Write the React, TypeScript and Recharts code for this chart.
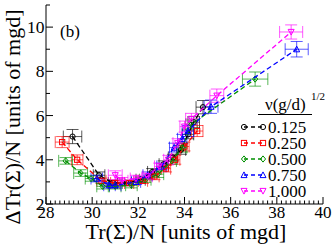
import React from 'react';
import { ScatterChart, Scatter, XAxis, YAxis, ErrorBar } from 'recharts';

// legend labels and colours, one per series
const seriesNames = ['0.125', '0.250', '0.500', '0.750', '1.000'];
const seriesColors = ['#000000', '#ff0000', '#009000', '#0000ff', '#ff00ff'];

// nu = 0.125
const x0125 = [29.15, 30.3, 30.9, 31.5, 32.1, 32.6, 33.1, 33.5, 33.85, 34.15, 34.4, 34.8];
const y0125 = [5.05, 3.3, 2.95, 2.95, 3.1, 3.45, 3.8, 4.1, 4.45, 5.15, 5.7, 6.38];
const ex0125 = [0.4, 0.25, 0.2, 0.2, 0.2, 0.2, 0.2, 0.2, 0.2, 0.25, 0.25, 0.3];
const ey0125 = [0.32, 0.15, 0.12, 0.12, 0.12, 0.15, 0.15, 0.15, 0.2, 0.2, 0.25, 0.3];

// nu = 0.250
const x0250 = [28.7, 29.35, 30.4, 31.0, 31.6, 32.2, 32.7, 33.2, 33.6, 34.0, 34.55];
const y0250 = [4.8, 4.0, 3.05, 2.95, 2.95, 3.05, 3.25, 3.6, 4.0, 4.6, 5.3];
const ex0250 = [0.3, 0.25, 0.2, 0.2, 0.2, 0.2, 0.2, 0.2, 0.2, 0.2, 0.25];
const ey0250 = [0.25, 0.22, 0.12, 0.12, 0.12, 0.12, 0.15, 0.15, 0.2, 0.2, 0.25];

// nu = 0.500
const x0500 = [28.85, 29.5, 29.95, 30.45, 31.0, 31.7, 32.3, 32.85, 33.45, 33.9, 34.3, 37.06];
const y0500 = [3.95, 3.4, 3.15, 2.8, 2.8, 2.85, 3.1, 3.35, 3.95, 4.55, 5.6, 7.65];
const ex0500 = [0.3, 0.3, 0.25, 0.25, 0.25, 0.25, 0.25, 0.25, 0.2, 0.2, 0.25, 0.55];
const ey0500 = [0.15, 0.15, 0.12, 0.12, 0.12, 0.12, 0.12, 0.15, 0.15, 0.2, 0.2, 0.32];

// nu = 0.750
const x0750 = [30.2, 30.75, 31.0, 31.9, 32.4, 33.0, 33.55, 33.9, 34.15, 35.15, 38.86];
const y0750 = [3.15, 2.85, 2.85, 3.0, 3.3, 3.7, 4.55, 4.95, 5.3, 6.4, 9.0];
const ex0750 = [0.25, 0.25, 0.25, 0.2, 0.2, 0.2, 0.2, 0.2, 0.25, 0.3, 0.5];
const ey0750 = [0.15, 0.12, 0.12, 0.12, 0.15, 0.15, 0.2, 0.2, 0.25, 0.3, 0.35];

// nu = 1.000
const x1000 = [31.0, 31.3, 31.9, 32.4, 32.9, 33.3, 33.7, 34.0, 34.3, 35.4, 38.62];
const y1000 = [3.3, 3.05, 3.15, 3.25, 3.7, 4.0, 4.75, 5.5, 5.85, 6.9, 9.78];
const ex1000 = [0.3, 0.25, 0.25, 0.2, 0.2, 0.2, 0.2, 0.2, 0.25, 0.3, 0.5];
const ey1000 = [0.2, 0.15, 0.15, 0.15, 0.15, 0.2, 0.2, 0.25, 0.25, 0.3, 0.32];

const xMajorTicks = [28, 30, 32, 34, 36, 38, 40];
const yMajorTicks = [2, 4, 6, 8, 10];

const seriesX = [x0125, x0250, x0500, x0750, x1000];
const seriesY = [y0125, y0250, y0500, y0750, y1000];
const seriesEx = [ex0125, ex0250, ex0500, ex0750, ex1000];
const seriesEy = [ey0125, ey0250, ey0500, ey0750, ey1000];

const series = seriesNames.map((name, i) => ({
  name,
  color: seriesColors[i],
  data: seriesX[i].map((x, j) => ({ x, y: seriesY[i][j], ex: seriesEx[i][j], ey: seriesEy[i][j] })),
}));

// every 0.2 along x, every 1 along y (majors + minors)
const xAllTicks: number[] = [];
for (let v = 280; v <= 400; v += 2) xAllTicks.push(v / 10);
const yAllTicks = [2, 3, 4, 5, 6, 7, 8, 9, 10, 11];

const FONT = '"Liberation Serif", "DejaVu Serif", serif';

const Marker = ({ kind, cx, cy, color }: { kind: number; cx: number; cy: number; color: string }) => {
  const s = 2.6;
  const common = { fill: 'none', stroke: color, strokeWidth: 1 };
  if (kind === 0) return <circle cx={cx} cy={cy} r={s} {...common} />;
  if (kind === 1) return <rect x={cx - s} y={cy - s} width={2 * s} height={2 * s} {...common} />;
  if (kind === 2) return <path d={`M${cx},${cy - s - 0.5}L${cx + s},${cy}L${cx},${cy + s + 0.5}L${cx - s},${cy}Z`} {...common} />;
  if (kind === 3) return <path d={`M${cx},${cy - s - 0.5}L${cx + s + 0.4},${cy + s}L${cx - s - 0.4},${cy + s}Z`} {...common} />;
  return <path d={`M${cx},${cy + s + 0.5}L${cx + s + 0.4},${cy - s}L${cx - s - 0.4},${cy - s}Z`} {...common} />;
};

const isMajor = (v: number, list: number[]) => list.some(t => Math.abs(t - v) < 1e-6);

const BottomTick = (props: any) => {
  const { x, y, payload } = props;
  const major = isMajor(payload.value, xMajorTicks);
  return (
    <g>
      <line x1={x} x2={x} y1={y} y2={y - (major ? 7 : 3.5)} stroke="#000" strokeWidth={1} />
      {major && (
        <text x={x} y={y + 8.5} textAnchor="middle" dominantBaseline="central" style={{ fontFamily: FONT, fontSize: 17 }} fill="#000">
          {payload.value}
        </text>
      )}
    </g>
  );
};

const TopTick = (props: any) => {
  const { x, y, payload } = props;
  const major = isMajor(payload.value, xMajorTicks);
  return <line x1={x} x2={x} y1={y} y2={y + (major ? 7 : 3.5)} stroke="#000" strokeWidth={1} />;
};

const LeftTick = (props: any) => {
  const { x, y, payload } = props;
  const major = isMajor(payload.value, yMajorTicks);
  return (
    <g>
      <line x1={x} x2={x + (major ? 7 : 4)} y1={y} y2={y} stroke="#000" strokeWidth={1} />
      {major && (
        <text x={x - 1.5} y={y} textAnchor="end" dominantBaseline="central" style={{ fontFamily: FONT, fontSize: 17.5 }} fill="#000">
          {payload.value}
        </text>
      )}
    </g>
  );
};

const RightTick = (props: any) => {
  const { x, y, payload } = props;
  const major = isMajor(payload.value, yMajorTicks);
  return <line x1={x} x2={x - (major ? 7 : 4)} y1={y} y2={y} stroke="#000" strokeWidth={1} />;
};

const legendRows = [127, 143, 159, 175, 191];

export default function App() {
  return (
    <div style={{ position: 'absolute', left: 0, top: 0, width: 332, height: 247, background: '#fff', overflow: 'hidden' }}>
      <ScatterChart width={332} height={247} margin={{ top: 5, right: 9, left: 0, bottom: 0 }}>
        <XAxis
          xAxisId="b"
          dataKey="x"
          type="number"
          domain={[28, 40]}
          ticks={xAllTicks}
          interval={0}
          height={43}
          tickSize={0}
          tickMargin={0}
          tickLine={false}
          axisLine={{ stroke: '#000' }}
          tick={<BottomTick />}
          allowDataOverflow
        />
        <XAxis
          xAxisId="t"
          orientation="top"
          type="number"
          domain={[28, 40]}
          ticks={xAllTicks}
          interval={0}
          height={0}
          tickSize={0}
          tickMargin={0}
          tickLine={false}
          axisLine={{ stroke: '#000' }}
          tick={<TopTick />}
          allowDataOverflow
        />
        <YAxis
          yAxisId="l"
          dataKey="y"
          type="number"
          domain={[2, 11]}
          ticks={yAllTicks}
          interval={0}
          width={46}
          tickSize={0}
          tickMargin={0}
          tickLine={false}
          axisLine={{ stroke: '#000' }}
          tick={<LeftTick />}
          allowDataOverflow
        />
        <YAxis
          yAxisId="r"
          orientation="right"
          type="number"
          domain={[2, 11]}
          ticks={yAllTicks}
          interval={0}
          width={0}
          tickSize={0}
          tickMargin={0}
          tickLine={false}
          axisLine={{ stroke: '#000' }}
          tick={<RightTick />}
          allowDataOverflow
        />
        {series.map((s, i) => (
          <Scatter
            key={s.name}
            name={s.name}
            data={s.data}
            xAxisId="b"
            yAxisId="l"
            isAnimationActive={false}
            line={{ stroke: s.color, strokeWidth: 1.3, strokeDasharray: '5 3' }}
            lineType="joint"
            shape={(p: any) => <Marker kind={i} cx={p.cx} cy={p.cy} color={s.color} />}
          >
            <ErrorBar dataKey="ex" direction="x" width={6} stroke={s.color} strokeOpacity={0.65} strokeWidth={1} isAnimationActive={false} />
            <ErrorBar dataKey="ey" direction="y" width={6} stroke={s.color} strokeOpacity={0.65} strokeWidth={1} isAnimationActive={false} />
          </Scatter>
        ))}
      </ScatterChart>
      <svg
        width={332}
        height={247}
        style={{ position: 'absolute', left: 0, top: 0, pointerEvents: 'none', fontFamily: FONT }}
      >
        <text x={60} y={31} fontSize={17} dominantBaseline="central">(b)</text>
        <text x={186} y={231.5} fontSize={22} textAnchor="middle" dominantBaseline="central">
          Tr(Σ)/N [units of mgd]
        </text>
        <text
          x={12}
          y={117}
          fontSize={22}
          textAnchor="middle"
          dominantBaseline="central"
          transform="rotate(-90 12 117)"
        >
          ΔTr(Σ)/N [units of mgd]
        </text>
        <text x={265} y={110} fontSize={17}>ν(g/d)</text>
        <text x={311} y={100} fontSize={11}>1/2</text>
        <line x1={258} x2={312} y1={114.5} y2={114.5} stroke="#000" strokeWidth={1.2} />
        {series.map((s, i) => (
          <g key={s.name}>
            <line x1={244} x2={263} y1={legendRows[i]} y2={legendRows[i]} stroke={s.color} strokeWidth={1.3} strokeDasharray="4 3" />
            <Marker kind={i} cx={244} cy={legendRows[i]} color={s.color} />
            <Marker kind={i} cx={263} cy={legendRows[i]} color={s.color} />
            <text x={268} y={legendRows[i]} fontSize={17} dominantBaseline="central">{s.name}</text>
          </g>
        ))}
      </svg>
    </div>
  );
}
